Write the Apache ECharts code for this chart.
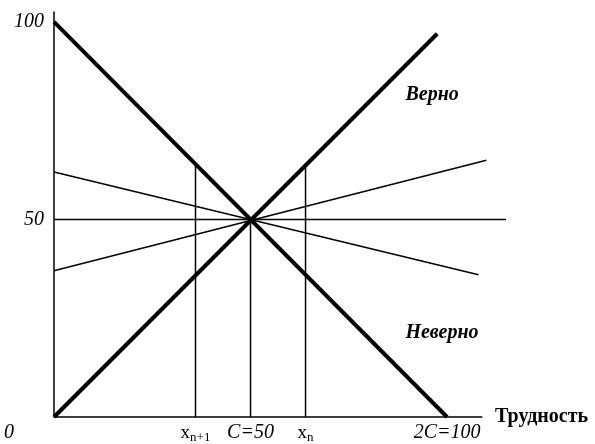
<!DOCTYPE html>
<html>
<head>
<meta charset="utf-8">
<script src="https://cdn.jsdelivr.net/npm/echarts@6/dist/echarts.min.js"></script>
<style>
  html, body { margin: 0; padding: 0; background: #fff; }
  #chart { width: 595px; height: 444px; }
</style>
</head>
<body>
<div id="chart"></div>
<script>
// значения по осям
const xTicks = [0, 36, 50, 64, 100];
const xTickLabels = ['0', 'x_{n+1}', 'C=50', 'x_n', '2C=100'];
const yTicks = [50, 100];
const yTickLabels = ['50', '100'];

// оси (ось X короче горизонтали y=50)
const xAxisLine = [[0, 0], [109, 0]];

// жирные линии
const correctLine = [[0, 0], [97.5, 97]];
const wrongLine = [[0, 100], [100, 0]];
// тонкие линии через точку (50, 50)
const midLine = [[0, 50], [115, 50]];
const thinUp = [[0, 37], [110, 65]];
const thinDown = [[0, 62], [108, 36]];
const vertLeft = [[36, 0], [36, 64]];
const vertMid = [[50, 0], [50, 50]];
const vertRight = [[64, 0], [64, 64]];

// подписи
const lineNames = ['Верно', 'Неверно'];
const lineNamePos = [[96.2, 81.5], [98.7, 21.3]];

const serif = "'Liberation Serif', 'Times New Roman', serif";

let myChart = echarts.init(document.getElementById('chart'));

function lineSeries (data, width) {
  return {
    type: 'line',
    data: data,
    symbol: 'none',
    clip: false,
    silent: true,
    lineStyle: { color: '#000', width: width },
    z: width > 2 ? 3 : 2
  };
}

function xLabel (v) {
  let s = xTickLabels[xTicks.indexOf(v)];
  if (s === '0') return '{zero|0}';
  if (s === 'x_{n+1}') return '{x|x}{s|n+1}';
  if (s === 'x_n') return '{x|x}{s|n}';
  return '{it|' + s + '}';
}

myChart.setOption({
  animation: false,
  grid: { left: 54, right: 89, top: 12, bottom: 27 },
  xAxis: {
    type: 'value',
    min: 0,
    max: 115,
    splitLine: { show: false },
    axisTick: { show: false },
    axisLine: { show: false },
    name: 'Трудность',
    nameLocation: 'end',
    nameGap: -11,
    nameTextStyle: {
      fontFamily: serif, fontWeight: 'bold', fontSize: 20, color: '#000',
      align: 'left', verticalAlign: 'middle', padding: [0, 0, 4, 0]
    },
    axisLabel: {
      customValues: xTicks,
      margin: 6,
      formatter: xLabel,
      rich: {
        zero: { fontFamily: serif, fontStyle: 'italic', fontSize: 20, color: '#000', padding: [0, 90, 0, 0] },
        it: { fontFamily: serif, fontStyle: 'italic', fontSize: 20, color: '#000' },
        x: { fontFamily: serif, fontSize: 19, color: '#000' },
        s: { fontFamily: serif, fontSize: 13, color: '#000', padding: [8, 0, 0, 0] }
      }
    }
  },
  yAxis: {
    type: 'value',
    min: 0,
    max: 102.5,
    splitLine: { show: false },
    axisTick: { show: false },
    axisLine: { lineStyle: { color: '#000', width: 1.5 } },
    axisLabel: {
      customValues: yTicks,
      margin: 10,
      formatter: (v) => yTickLabels[yTicks.indexOf(v)],
      fontFamily: serif,
      fontStyle: 'italic',
      fontSize: 20,
      color: '#000'
    }
  },
  series: [
    lineSeries(xAxisLine, 1.5),
    lineSeries(midLine, 1.5),
    lineSeries(thinUp, 1.5),
    lineSeries(thinDown, 1.5),
    lineSeries(vertLeft, 1.5),
    lineSeries(vertMid, 1.5),
    lineSeries(vertRight, 1.5),
    lineSeries(correctLine, 4),
    lineSeries(wrongLine, 4),
    {
      type: 'scatter',
      symbolSize: 0,
      silent: true,
      itemStyle: { opacity: 1, color: '#000' },
      data: lineNames.map((n, i) => ({ name: n, value: lineNamePos[i] })),
      label: {
        show: true,
        position: 'inside',
        formatter: '{b}',
        fontFamily: serif,
        fontStyle: 'italic',
        fontWeight: 'bold',
        fontSize: 20,
        color: '#000',
        opacity: 1,
        textBorderWidth: 0
      }
    }
  ]
});
</script>
</body>
</html>
